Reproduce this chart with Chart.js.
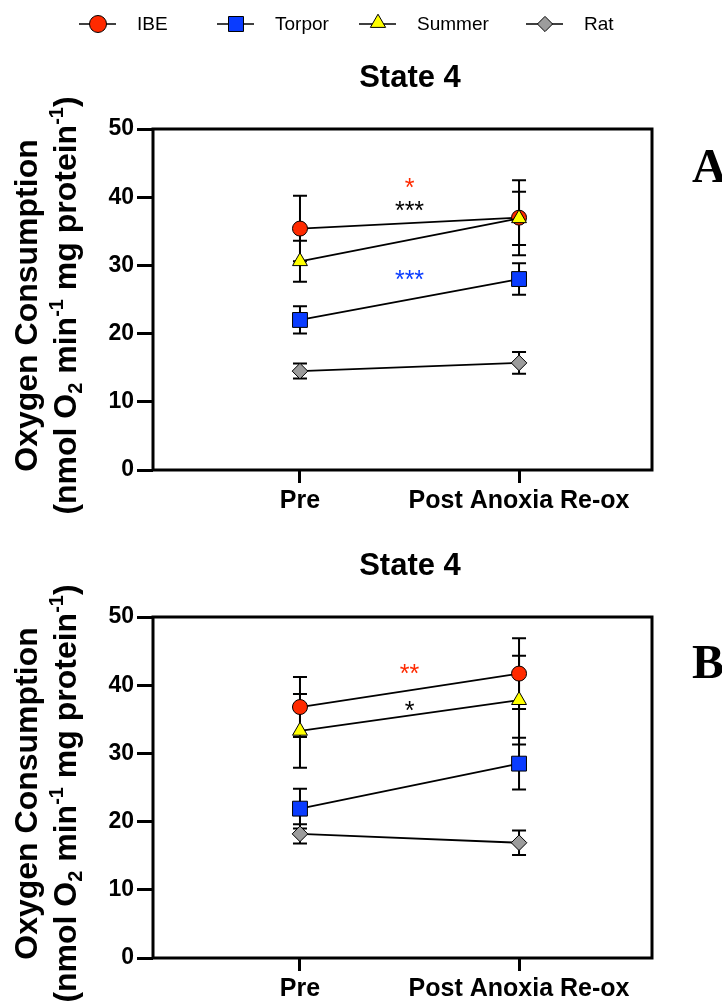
<!DOCTYPE html>
<html>
<head>
<meta charset="utf-8">
<script src="https://cdn.jsdelivr.net/npm/chart.js@4/dist/chart.umd.min.js"></script>
<style>
  html, body { margin: 0; padding: 0; background: #fff; }
  body { width: 722px; height: 1004px; position: relative; overflow: hidden; }
  .panel { position: absolute; left: 0; width: 722px; }
  #wrapA { top: 0; height: 520px; }
  #wrapB { top: 488px; height: 516px; }
</style>
</head>
<body>
<div class="panel" id="wrapA"><canvas id="chartA"></canvas></div>
<div class="panel" id="wrapB"><canvas id="chartB"></canvas></div>
<script>
// categories on x (placed at 1 and 2 on a linear axis)
const categories = ['Pre', 'Post Anoxia Re-ox'];
const categoryPos = [1, 2];
const yTicks = [0, 10, 20, 30, 40, 50];
const seriesNames = ['IBE', 'Torpor', 'Summer', 'Rat'];

// panel A : mean and SEM
const ibeA = [35.4, 37.0];
const ibeErrA = [4.8, 5.5];
const torporA = [22.0, 28.0];
const torporErrA = [2.0, 2.3];
const summerA = [30.6, 36.9];
const summerErrA = [3.0, 3.9];
const ratA = [14.5, 15.7];
const ratErrA = [1.1, 1.6];

// panel B : mean and SEM
const ibeB = [36.8, 41.7];
const ibeErrB = [4.4, 5.2];
const torporB = [21.9, 28.5];
const torporErrB = [2.9, 3.8];
const summerB = [33.3, 37.8];
const summerErrB = [5.4, 6.5];
const ratB = [18.2, 16.9];
const ratErrB = [1.4, 1.8];

// significance stars, between the two columns
const starTextA = ['*', '***', '***'];
const starValA = [42.3, 38.9, 28.9];
const starTextB = ['**', '*'];
const starValB = [42.7, 37.2];

// look of each series
const RED = '#ff2a00', BLUE = '#0a3cff', YELLOW = '#ffff00', GREY = '#9c9c9c';
const seriesColors = [RED, BLUE, YELLOW, GREY];
const seriesShapes = ['circle', 'rect', 'triangle', 'rectRot'];
const seriesRadius = [7.5, 10.5, 8.6, 7.8];
const drawOrder = [1, 2, 0, 3]; // summer triangle sits on top of IBE
const starColorsA = [RED, '#000', BLUE];
const starColorsB = [RED, '#000'];

function makeDatasets(values, errors) {
  return values.map((vals, i) => ({
    label: seriesNames[i],
    data: vals.map((v, j) => ({ x: categoryPos[j], y: v })),
    errors: errors[i],
    showLine: true,
    borderColor: '#000',
    borderWidth: 1.8,
    backgroundColor: seriesColors[i],
    pointBackgroundColor: seriesColors[i],
    pointBorderColor: '#000',
    pointBorderWidth: 1,
    pointStyle: seriesShapes[i],
    pointRadius: seriesRadius[i],
    order: drawOrder[i]
  }));
}

// marker path, same geometry as chart.js point styles
function markerPath(ctx, shape, x, y, r) {
  ctx.beginPath();
  if (shape === 'circle') {
    ctx.arc(x, y, r, 0, Math.PI * 2);
  } else if (shape === 'rect') {
    const s = Math.SQRT1_2 * r;
    ctx.rect(x - s, y - s, 2 * s, 2 * s);
  } else if (shape === 'triangle') {
    let a = 0;
    ctx.moveTo(x + Math.sin(a) * r, y - Math.cos(a) * r);
    a += Math.PI * 2 / 3;
    ctx.lineTo(x + Math.sin(a) * r, y - Math.cos(a) * r);
    a += Math.PI * 2 / 3;
    ctx.lineTo(x + Math.sin(a) * r, y - Math.cos(a) * r);
  } else {
    ctx.moveTo(x - r, y); ctx.lineTo(x, y - r); ctx.lineTo(x + r, y); ctx.lineTo(x, y + r);
  }
  ctx.closePath();
}

// error bars under the points
const errorBars = {
  id: 'errorBars',
  beforeDatasetsDraw(chart) {
    const ctx = chart.ctx;
    const ys = chart.scales.y;
    ctx.save();
    ctx.strokeStyle = '#000';
    ctx.lineWidth = 2;
    chart.data.datasets.forEach((ds, i) => {
      const meta = chart.getDatasetMeta(i);
      meta.data.forEach((pt, j) => {
        const v = ds.data[j].y, e = ds.errors[j];
        const top = ys.getPixelForValue(v + e);
        const bot = ys.getPixelForValue(v - e);
        ctx.beginPath();
        ctx.moveTo(pt.x, top); ctx.lineTo(pt.x, bot);
        ctx.moveTo(pt.x - 7, top); ctx.lineTo(pt.x + 7, top);
        ctx.moveTo(pt.x - 7, bot); ctx.lineTo(pt.x + 7, bot);
        ctx.stroke();
      });
    });
    ctx.restore();
  }
};

// frame round the plot
const frame = {
  id: 'frame',
  beforeDatasetsDraw(chart) {
    const { ctx, chartArea: a } = chart;
    ctx.save();
    ctx.strokeStyle = '#000';
    ctx.lineWidth = 3;
    ctx.strokeRect(a.left, a.top, a.right - a.left, a.bottom - a.top);
    ctx.restore();
  }
};

// title, y title, panel letter, stars, legend
const decorations = {
  id: 'decorations',
  afterDraw(chart, args, opts) {
    const { ctx, chartArea: a } = chart;
    const xs = chart.scales.x, ys = chart.scales.y;
    ctx.save();
    ctx.fillStyle = '#000';

    // title
    ctx.font = 'bold 31px "Liberation Sans", Arial, sans-serif';
    ctx.textAlign = 'center';
    ctx.textBaseline = 'alphabetic';
    ctx.fillText('State 4', 410, 87);

    // panel letter
    ctx.font = 'bold 48px "Liberation Serif", "Times New Roman", serif';
    ctx.textAlign = 'left';
    ctx.fillText(opts.letter, 692, opts.letterY);

    // y axis title, two lines, rotated
    const cy = (a.top + a.bottom) / 2 + 6;
    const fs = 32;
    const line1 = [{ t: 'Oxygen Consumption' }];
    const line2 = [{ t: '(nmol O' }, { t: '2', sub: true }, { t: ' min' }, { t: '-1', sup: true },
                   { t: ' mg protein' }, { t: '-1', sup: true }, { t: ')' }];
    [[line1, 37], [line2, 76]].forEach(([parts, bx]) => {
      const fontFor = p => (p.sub || p.sup) ? `bold ${Math.round(fs * 0.62)}px "Liberation Sans", Arial` : `bold ${fs}px "Liberation Sans", Arial`;
      let total = 0;
      parts.forEach(p => { ctx.font = fontFor(p); total += ctx.measureText(p.t).width; });
      ctx.save();
      ctx.translate(bx, cy);
      ctx.rotate(-Math.PI / 2);
      let x = -total / 2;
      ctx.textAlign = 'left';
      parts.forEach(p => {
        ctx.font = fontFor(p);
        const dy = p.sub ? fs * 0.2 : (p.sup ? -fs * 0.42 : 0);
        ctx.fillText(p.t, x, dy);
        x += ctx.measureText(p.t).width;
      });
      ctx.restore();
    });

    // stars
    ctx.font = '25px "Liberation Sans", Arial, sans-serif';
    ctx.textAlign = 'center';
    const midX = xs.getPixelForValue((categoryPos[0] + categoryPos[1]) / 2);
    opts.stars.forEach((s, i) => {
      ctx.fillStyle = opts.starColors[i];
      ctx.fillText(s, midX, ys.getPixelForValue(opts.starVals[i]) + 25 * 0.59);
    });

    // legend
    if (opts.legend) {
      const lx = [98, 236, 378, 545];
      const ly = 24;
      const lr = [8.5, 10.6, 8.8, 7.6];
      seriesNames.forEach((name, i) => {
        ctx.strokeStyle = '#000';
        ctx.lineWidth = 1.6;
        ctx.beginPath();
        ctx.moveTo(lx[i] - 19, ly); ctx.lineTo(lx[i] + 18, ly);
        ctx.stroke();
        markerPath(ctx, seriesShapes[i], lx[i], ly + (seriesShapes[i] === 'triangle' ? -1 : 0), lr[i]);
        ctx.fillStyle = seriesColors[i];
        ctx.fill();
        ctx.lineWidth = 1;
        ctx.stroke();
        ctx.fillStyle = '#000';
        ctx.font = '19px "Liberation Sans Narrow", "Liberation Sans", Arial, sans-serif';
        ctx.textAlign = 'left';
        ctx.textBaseline = 'middle';
        ctx.fillText(name, lx[i] + 39, ly + 1);
      });
    }
    ctx.restore();
  }
};

function buildChart(id, values, errors, deco) {
  return new Chart(document.getElementById(id), {
    type: 'scatter',
    data: { datasets: makeDatasets(values, errors) },
    plugins: [frame, errorBars, decorations],
    options: {
      responsive: true,
      maintainAspectRatio: false,
      animation: false,
      layout: { padding: { top: 129, right: 70, left: 0, bottom: deco.bottomPad } },
      plugins: {
        legend: { display: false },
        tooltip: { enabled: false },
        decorations: deco
      },
      scales: {
        x: {
          type: 'linear',
          min: 0.329,
          max: 2.607,
          border: { display: false },
          grid: { drawOnChartArea: false, color: '#000', lineWidth: 3, tickLength: 13 },
          afterBuildTicks: s => { s.ticks = categoryPos.map(v => ({ value: v })); },
          afterFit: s => { s.height = 45; },
          ticks: {
            autoSkip: false,
            maxRotation: 0,
            padding: 3,
            color: '#000',
            font: { family: '"Liberation Sans", Arial, sans-serif', size: 25, weight: 'bold' },
            callback: v => categories[categoryPos.indexOf(v)]
          }
        },
        y: {
          min: yTicks[0],
          max: yTicks[yTicks.length - 1],
          border: { display: false },
          grid: { drawOnChartArea: false, color: '#000', lineWidth: 3, tickLength: 16 },
          afterBuildTicks: s => { s.ticks = yTicks.map(v => ({ value: v })); },
          afterFit: s => { s.width = 153; },
          ticks: {
            padding: 3,
            color: '#000',
            font: { family: '"Liberation Sans", Arial, sans-serif', size: 23, weight: 'bold' }
          }
        }
      }
    }
  });
}

buildChart('chartA',
  [ibeA, torporA, summerA, ratA],
  [ibeErrA, torporErrA, summerErrA, ratErrA],
  { letter: 'A', letterY: 182, legend: true, stars: starTextA, starVals: starValA, starColors: starColorsA, bottomPad: 5 });

buildChart('chartB',
  [ibeB, torporB, summerB, ratB],
  [ibeErrB, torporErrB, summerErrB, ratErrB],
  { letter: 'B', letterY: 190, legend: false, stars: starTextB, starVals: starValB, starColors: starColorsB, bottomPad: 1 });
</script>
</body>
</html>
